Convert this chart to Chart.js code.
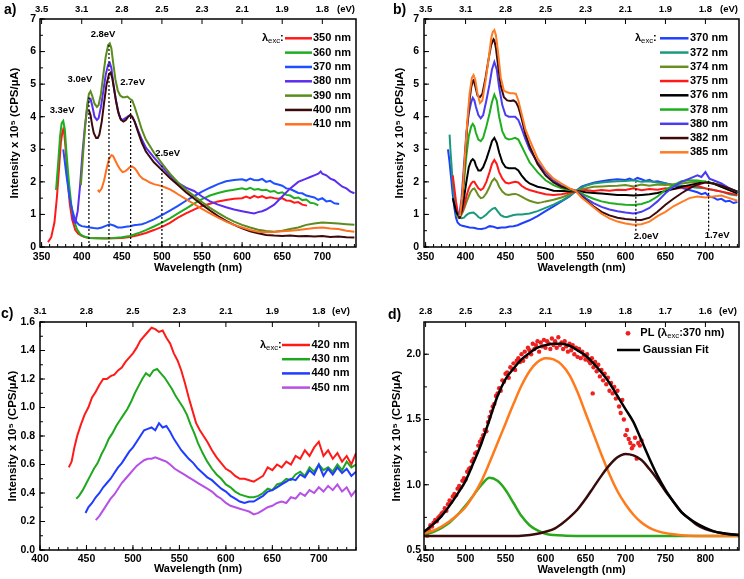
<!DOCTYPE html>
<html><head><meta charset="utf-8">
<script src="https://cdn.jsdelivr.net/npm/chart.js@4.4.1/dist/chart.umd.min.js"></script>
<style>
html,body{margin:0;padding:0;background:#fff}
#wrap{position:relative;width:744px;height:579px;overflow:hidden;background:#fff}
canvas{position:absolute;display:block}
</style></head><body>
<div id="wrap">
<canvas id="ca" width="372" height="290" style="left:0;top:0"></canvas>
<canvas id="cb" width="372" height="290" style="left:372px;top:0"></canvas>
<canvas id="cc" width="372" height="289" style="left:0;top:290px"></canvas>
<canvas id="cd" width="372" height="289" style="left:372px;top:290px"></canvas>
</div>
<script>
const FONT = "'Liberation Sans', Arial, Helvetica, sans-serif";
Chart.defaults.font.family = FONT;
Chart.defaults.color = '#000';

// ---------- tick values / labels ----------
const wlTicksAB = [350,400,450,500,550,600,650,700];
const evTicksAB = ['3.5','3.1','2.8','2.5','2.3','2.1','1.9','1.8'];
const yTicksAB = [0,1,2,3,4,5,6,7];
const wlTicksC = [400,450,500,550,600,650,700];
const evTicksC = ['3.1','2.8','2.5','2.3','2.1','1.9','1.8'];
const yTicksC = [0,0.2,0.4,0.6,0.8,1.0,1.2,1.4,1.6];
const wlTicksD = [450,500,550,600,650,700,750,800];
const evTicksD = ['2.8','2.5','2.3','2.1','1.9','1.8','1.7','1.6'];
const yTicksD = [0.5,1.0,1.5,2.0];

// ---------- panel a : excitation 350-410 nm ----------
const excA = [350,360,370,380,390,400,410];
const a350 = [[358,.15],[362,.3],[366,.75],[369,1.5],[372,2.5],[374,3.2],[376,3.55],[377,3.62],[378,3.55],[380,3.0],[382,2.2],[385,1.35],[388,.85],[392,.52],[396,.4],[400,.34],[405,.3],[410,.28],[420,.27],[430,.26],[440,.27],[450,.28],[460,.31],[470,.36],[480,.43],[490,.52],[500,.62],[510,.74],[520,.9],[530,1.03],[540,1.15],[550,1.26],[560,1.33],[570,1.4],[580,1.44],[590,1.48],[600,1.5],[605,1.55],[610,1.5],[615,1.57],[620,1.52],[625,1.56],[630,1.5],[635,1.53],[640,1.5],[645,1.48],[650,1.5],[655,1.43],[660,1.42],[665,1.36],[670,1.38],[675,1.3],[681,1.27]];
const a360 = [[368,1.75],[371,2.7],[373,3.4],[375,3.8],[377,3.87],[379,3.6],[381,2.9],[384,2.0],[387,1.3],[390,.85],[394,.55],[398,.4],[402,.33],[406,.3],[410,.28],[420,.27],[430,.27],[440,.28],[450,.3],[460,.34],[470,.42],[480,.52],[490,.63],[500,.75],[510,.88],[520,1.03],[530,1.18],[540,1.33],[550,1.47],[560,1.58],[570,1.66],[580,1.72],[590,1.76],[600,1.8],[605,1.77],[610,1.82],[615,1.76],[620,1.78],[625,1.74],[630,1.76],[635,1.7],[640,1.72],[645,1.65],[650,1.68],[655,1.6],[660,1.58],[665,1.5],[670,1.52],[675,1.44],[680,1.46],[685,1.36],[690,1.34],[695,1.28]];
const a370 = [[377,3.0],[379,2.6],[381,2.2],[383,1.85],[385,1.5],[388,1.15],[391,.9],[394,.75],[397,.68],[400,.64],[405,.62],[410,.6],[415,.58],[420,.57],[425,.6],[430,.65],[435,.7],[440,.66],[445,.6],[450,.6],[455,.62],[460,.64],[465,.67],[470,.68],[475,.7],[480,.74],[490,.85],[500,.98],[510,1.12],[520,1.26],[530,1.42],[540,1.56],[550,1.7],[560,1.82],[570,1.93],[580,2.02],[590,2.06],[600,2.08],[605,2.04],[610,2.1],[615,2.06],[620,2.05],[625,2.09],[630,2.0],[635,2.03],[640,1.95],[645,1.92],[650,1.88],[655,1.8],[660,1.78],[665,1.72],[670,1.66],[675,1.65],[680,1.58],[685,1.55],[690,1.52],[695,1.45],[700,1.5],[705,1.4],[710,1.42],[715,1.34],[721,1.32]];
const a380 = [[388,1.0],[390,.8],[392,.75],[395,1.1],[398,1.9],[401,2.9],[404,3.7],[407,4.3],[409,4.55],[411,4.55],[413,4.35],[416,4.0],[419,3.9],[421,3.95],[424,4.3],[427,4.8],[430,5.3],[433,5.6],[435,5.65],[437,5.5],[439,5.1],[442,4.6],[445,4.2],[448,3.95],[451,3.9],[454,3.95],[457,4.0],[460,4.05],[463,4.0],[466,3.85],[470,3.6],[475,3.3],[480,3.05],[490,2.75],[500,2.47],[510,2.2],[520,1.97],[530,1.82],[540,1.72],[550,1.55],[560,1.4],[570,1.3],[580,1.22],[590,1.15],[600,1.1],[610,1.05],[615,1.03],[620,1.07],[625,1.1],[630,1.15],[640,1.3],[650,1.55],[660,1.8],[670,2.0],[680,2.1],[685,2.15],[690,2.2],[695,2.25],[698,2.32],[700,2.25],[705,2.2],[710,2.1],[715,2.05],[720,1.95],[725,1.85],[730,1.8],[735,1.7],[740,1.65]];
const a390 = [[399,1.9],[401,2.6],[403,3.3],[405,3.9],[407,4.4],[409,4.7],[411,4.78],[413,4.65],[416,4.4],[419,4.3],[421,4.35],[424,4.7],[427,5.3],[430,5.85],[433,6.2],[435,6.25],[437,6.1],[439,5.7],[442,5.15],[445,4.8],[448,4.65],[451,4.6],[454,4.6],[457,4.62],[460,4.55],[463,4.5],[466,4.3],[470,4.0],[475,3.6],[480,3.3],[490,2.9],[500,2.57],[510,2.25],[520,1.98],[530,1.76],[540,1.57],[550,1.38],[560,1.2],[570,1.05],[580,.9],[590,.78],[600,.68],[610,.6],[620,.53],[630,.49],[640,.47],[650,.5],[660,.55],[670,.6],[680,.68],[690,.72],[700,.75],[710,.74],[720,.72],[730,.7],[740,.68]];
const a400 = [[409,4.2],[411,4.05],[413,3.75],[415,3.5],[418,3.35],[420,3.35],[422,3.45],[425,3.85],[428,4.45],[431,5.0],[434,5.3],[436,5.35],[438,5.2],[440,4.9],[443,4.45],[446,4.1],[449,3.9],[452,3.85],[455,3.9],[458,4.0],[461,4.05],[463,4.0],[466,3.85],[470,3.55],[475,3.2],[480,2.93],[490,2.6],[500,2.36],[510,2.12],[520,1.9],[530,1.68],[540,1.49],[550,1.3],[560,1.12],[570,.95],[580,.8],[590,.68],[600,.57],[610,.48],[620,.42],[630,.37],[640,.35],[650,.34],[660,.35],[670,.33],[680,.34],[690,.32],[700,.34],[710,.31],[720,.32],[730,.3],[740,.29]];
const a410 = [[420,1.75],[422,1.7],[425,1.8],[428,2.05],[431,2.4],[434,2.7],[437,2.82],[439,2.8],[442,2.65],[445,2.5],[448,2.38],[451,2.3],[454,2.32],[457,2.38],[460,2.45],[463,2.47],[466,2.42],[469,2.32],[472,2.2],[476,2.1],[480,2.05],[485,1.98],[490,1.93],[495,1.9],[500,1.87],[505,1.82],[510,1.77],[515,1.7],[520,1.62],[530,1.47],[540,1.32],[550,1.17],[560,1.03],[570,.9],[580,.78],[590,.68],[600,.6],[610,.52],[620,.47],[630,.45],[640,.46],[650,.48],[660,.5],[670,.52],[680,.55],[690,.58],[700,.6],[710,.57],[720,.55],[730,.5],[740,.47]];
const peakLinesA = [[[409,0],[409,4.6]],[[434,0],[434,6.2]],[[461,0],[461,4.5]],[[500,0],[500,2.5]]];

// ---------- panel b : excitation 370-385 nm ----------
const excB = [370,372,374,375,376,378,380,382,385];
const b370 = [[378,3.0],[380,2.6],[382,2.1],[384,1.6],[386,1.2],[388,.9],[390,.75],[393,.68],[396,.65],[400,.63],[405,.6],[410,.59],[415,.56],[420,.55],[425,.58],[430,.64],[435,.62],[440,.58],[445,.6],[450,.6],[455,.63],[460,.64],[465,.67],[470,.72],[480,.82],[490,.95],[500,1.1],[510,1.25],[520,1.4],[530,1.55],[538,1.72],[545,1.85],[550,1.9],[560,1.97],[570,2.02],[580,2.06],[590,2.08],[600,2.06],[605,2.1],[610,2.05],[615,2.12],[620,2.08],[625,2.03],[630,2.06],[635,2.0],[640,2.02],[650,1.96],[660,1.9],[670,1.82],[680,1.75],[690,1.68],[695,1.62],[700,1.66],[705,1.55],[710,1.52],[715,1.45],[720,1.48],[725,1.4],[730,1.42],[735,1.35],[740,1.38]];
const b372 = [[380,3.45],[381,3.0],[383,2.3],[385,1.7],[387,1.25],[389,1.0],[392,.9],[395,.88],[398,.9],[401,.98],[404,1.03],[407,1.05],[410,1.06],[413,1.0],[416,.92],[419,.88],[422,.92],[426,1.0],[430,1.1],[434,1.18],[437,1.2],[440,1.1],[444,.98],[448,.93],[452,.92],[456,.95],[460,.98],[465,1.0],[470,1.0],[480,1.03],[490,1.1],[500,1.2],[510,1.3],[520,1.42],[530,1.57],[538,1.72],[545,1.82],[550,1.88],[560,1.95],[570,1.98],[580,2.0],[590,2.02],[600,2.03],[610,2.05],[620,2.0],[630,2.02],[640,1.98],[650,1.95],[660,1.9],[670,1.88],[680,1.85],[690,1.82],[700,1.8],[710,1.75],[720,1.7],[730,1.62],[740,1.58]];
const b374 = [[388,1.0],[391,.9],[394,.95],[397,1.1],[400,1.3],[403,1.5],[406,1.68],[409,1.78],[411,1.8],[413,1.72],[416,1.58],[419,1.5],[422,1.52],[426,1.65],[430,1.85],[433,2.02],[436,2.1],[439,2.02],[442,1.85],[446,1.7],[450,1.62],[454,1.6],[458,1.62],[462,1.63],[466,1.6],[470,1.55],[475,1.48],[480,1.42],[485,1.38],[490,1.35],[495,1.37],[500,1.4],[510,1.45],[520,1.52],[530,1.62],[538,1.72],[545,1.78],[550,1.8],[560,1.85],[570,1.86],[580,1.87],[590,1.88],[600,1.9],[610,1.86],[620,1.92],[630,1.88],[640,1.92],[650,1.9],[660,1.93],[670,1.95],[680,1.98],[690,2.0],[700,2.0],[710,1.95],[720,1.85],[730,1.75],[740,1.65]];
const b375 = [[384,2.2],[386,1.8],[388,1.4],[390,1.1],[392,1.0],[395,1.05],[398,1.25],[401,1.55],[404,1.8],[407,1.95],[409,2.0],[411,2.0],[413,1.92],[416,1.8],[419,1.75],[422,1.8],[426,2.0],[430,2.3],[433,2.55],[436,2.67],[439,2.55],[442,2.3],[446,2.1],[450,1.98],[454,1.95],[458,1.98],[462,2.0],[466,1.98],[470,1.88],[475,1.8],[480,1.75],[490,1.68],[500,1.62],[510,1.6],[520,1.62],[530,1.67],[538,1.72],[545,1.73],[550,1.75],[560,1.72],[570,1.75],[580,1.73],[590,1.76],[600,1.75],[610,1.8],[620,1.74],[630,1.78],[640,1.76],[650,1.8],[660,1.78],[670,1.82],[680,1.85],[690,1.88],[700,1.8],[710,1.75],[720,1.7],[730,1.65],[740,1.6]];
const b376 = [[384,1.5],[386,1.3],[388,1.1],[390,1.0],[392,.95],[395,1.1],[398,1.5],[401,2.0],[404,2.45],[407,2.65],[409,2.7],[411,2.65],[413,2.5],[416,2.35],[419,2.35],[422,2.45],[426,2.7],[430,3.0],[433,3.25],[436,3.35],[439,3.2],[442,2.9],[446,2.6],[450,2.45],[454,2.42],[458,2.42],[462,2.42],[466,2.35],[470,2.2],[475,2.05],[480,1.95],[490,1.85],[500,1.8],[510,1.73],[520,1.72],[530,1.71],[538,1.72],[545,1.7],[550,1.68],[560,1.66],[570,1.64],[580,1.62],[590,1.6],[600,1.6],[610,1.58],[620,1.6],[630,1.62],[640,1.66],[650,1.72],[660,1.78],[670,1.85],[680,1.9],[690,1.95],[700,2.0],[710,1.95],[720,1.85],[730,1.75],[740,1.65]];
const b378 = [[392,.95],[395,1.3],[398,2.0],[401,2.8],[404,3.4],[407,3.7],[409,3.78],[411,3.7],[413,3.5],[416,3.3],[419,3.25],[422,3.35],[426,3.7],[430,4.1],[433,4.45],[436,4.68],[439,4.5],[442,4.0],[446,3.55],[450,3.35],[454,3.3],[458,3.32],[462,3.35],[466,3.3],[470,3.1],[475,2.85],[480,2.6],[490,2.3],[500,2.05],[510,1.9],[520,1.8],[530,1.75],[538,1.72],[545,1.65],[550,1.58],[560,1.48],[570,1.4],[580,1.35],[590,1.32],[600,1.3],[610,1.29],[620,1.32],[630,1.4],[640,1.55],[650,1.75],[660,1.9],[670,2.02],[680,2.05],[690,2.04],[700,2.0],[710,1.95],[720,1.9],[730,1.8],[740,1.7]];
const b380 = [[392,.95],[395,1.5],[398,2.5],[401,3.5],[404,4.1],[407,4.45],[409,4.58],[411,4.5],[413,4.3],[416,4.05],[419,3.95],[422,4.05],[426,4.5],[430,5.0],[433,5.45],[436,5.68],[439,5.45],[442,4.9],[446,4.35],[450,4.05],[454,4.0],[458,4.0],[462,4.0],[466,3.9],[470,3.65],[475,3.3],[480,3.0],[490,2.6],[500,2.3],[510,2.05],[520,1.88],[530,1.78],[538,1.72],[545,1.6],[550,1.5],[560,1.35],[570,1.23],[580,1.15],[590,1.1],[600,1.06],[610,1.03],[615,1.05],[620,1.08],[630,1.2],[640,1.4],[650,1.65],[660,1.85],[670,2.0],[680,2.1],[690,2.2],[695,2.15],[700,2.3],[705,2.1],[710,2.05],[720,1.95],[730,1.8],[740,1.7]];
const b382 = [[391,.88],[393,.9],[396,1.5],[399,2.6],[402,3.7],[405,4.5],[407,4.9],[409,5.1],[410,5.12],[412,4.95],[415,4.65],[418,4.6],[421,4.7],[425,5.2],[429,5.8],[432,6.2],[435,6.38],[436,6.35],[438,6.1],[441,5.5],[444,4.95],[448,4.6],[452,4.5],[456,4.48],[460,4.5],[463,4.45],[466,4.3],[470,3.95],[475,3.45],[480,3.1],[490,2.55],[500,2.2],[510,1.98],[520,1.85],[530,1.78],[538,1.72],[545,1.55],[550,1.45],[560,1.25],[570,1.08],[580,.97],[590,.9],[600,.86],[610,.84],[620,.83],[630,.9],[640,1.08],[650,1.3],[660,1.48],[670,1.65],[680,1.8],[690,1.92],[700,1.98],[710,1.95],[720,1.88],[730,1.8],[740,1.7]];
const b385 = [[393,.95],[396,1.6],[399,2.7],[402,3.8],[405,4.7],[408,5.2],[410,5.28],[412,5.15],[415,4.7],[418,4.42],[421,4.5],[425,5.1],[429,5.8],[432,6.4],[434,6.6],[436,6.66],[438,6.5],[441,5.9],[444,5.2],[448,4.8],[452,4.75],[456,4.72],[460,4.72],[463,4.7],[466,4.5],[470,4.1],[475,3.6],[480,3.3],[490,2.72],[500,2.35],[510,2.1],[520,1.95],[530,1.8],[538,1.72],[545,1.52],[550,1.42],[560,1.22],[570,1.02],[580,.88],[590,.78],[600,.72],[610,.68],[620,.7],[630,.78],[640,.95],[650,1.08],[660,1.25],[670,1.38],[680,1.5],[690,1.55],[700,1.52],[710,1.55],[720,1.58],[730,1.5],[740,1.42]];
const peakLinesB = [[[613,0.5],[613,2.0]],[[704,0.5],[704,2.05]]];

// ---------- panel c : excitation 420-450 nm ----------
const excC = [420,430,440,450];
const c420 = [[431,.58],[434,.62],[437,.72],[440,.8],[444,.88],[448,.95],[452,1.0],[456,1.07],[460,1.11],[464,1.16],[468,1.2],[472,1.2],[476,1.22],[480,1.23],[484,1.26],[488,1.28],[492,1.32],[496,1.35],[500,1.38],[504,1.42],[508,1.47],[512,1.5],[516,1.53],[520,1.56],[524,1.55],[528,1.53],[532,1.54],[536,1.49],[540,1.45],[544,1.38],[548,1.33],[552,1.26],[556,1.17],[560,1.07],[564,.98],[568,.89],[572,.84],[576,.8],[580,.76],[585,.7],[590,.65],[595,.61],[600,.57],[605,.55],[610,.52],[615,.5],[620,.5],[625,.49],[630,.48],[635,.5],[640,.52],[645,.58],[650,.56],[655,.6],[660,.58],[665,.62],[670,.6],[675,.66],[680,.64],[685,.7],[690,.66],[695,.72],[700,.76],[705,.66],[710,.7],[715,.64],[720,.68],[725,.62],[730,.66],[735,.6],[740,.68]];
const c430 = [[439,.36],[442,.38],[446,.42],[450,.47],[454,.52],[458,.57],[462,.61],[466,.67],[470,.72],[474,.78],[478,.82],[482,.87],[486,.91],[490,.95],[494,.99],[498,1.04],[502,1.1],[506,1.15],[510,1.2],[514,1.24],[518,1.22],[522,1.26],[526,1.27],[530,1.24],[534,1.21],[538,1.17],[542,1.13],[546,1.08],[550,1.04],[554,1.0],[558,.95],[562,.88],[566,.82],[570,.75],[575,.68],[580,.62],[585,.57],[590,.53],[595,.5],[600,.46],[605,.44],[610,.41],[615,.39],[620,.38],[625,.37],[630,.37],[635,.38],[640,.4],[645,.43],[650,.42],[655,.46],[660,.47],[665,.5],[670,.49],[675,.53],[680,.55],[685,.52],[690,.58],[695,.55],[700,.6],[705,.56],[710,.58],[715,.55],[720,.6],[725,.56],[730,.62],[735,.58],[740,.6]];
const c440 = [[449,.26],[452,.3],[456,.33],[460,.37],[464,.4],[468,.44],[472,.47],[476,.5],[480,.54],[484,.58],[488,.61],[492,.65],[496,.69],[500,.72],[504,.76],[508,.8],[512,.84],[516,.85],[520,.86],[524,.84],[528,.89],[532,.86],[536,.87],[540,.83],[544,.78],[548,.74],[552,.7],[556,.67],[560,.64],[565,.61],[570,.57],[575,.54],[580,.51],[585,.49],[590,.46],[595,.43],[600,.41],[605,.38],[610,.36],[615,.34],[620,.33],[625,.34],[630,.34],[635,.36],[640,.38],[645,.41],[650,.42],[655,.44],[660,.46],[665,.48],[670,.5],[675,.49],[680,.53],[685,.51],[690,.56],[695,.53],[700,.6],[705,.52],[710,.57],[715,.53],[720,.58],[725,.54],[730,.57],[735,.52],[740,.55]];
const c450 = [[460,.21],[464,.24],[468,.28],[472,.32],[476,.36],[480,.39],[484,.43],[488,.47],[492,.5],[496,.53],[500,.56],[504,.59],[508,.61],[512,.63],[516,.64],[520,.64],[524,.65],[528,.64],[532,.63],[536,.62],[540,.6],[545,.57],[550,.55],[555,.53],[560,.51],[565,.49],[570,.47],[575,.45],[580,.43],[585,.41],[590,.38],[595,.36],[600,.33],[605,.31],[610,.3],[615,.29],[620,.28],[625,.27],[630,.25],[635,.26],[640,.28],[645,.3],[650,.31],[655,.33],[660,.34],[665,.33],[670,.37],[675,.36],[680,.4],[685,.38],[690,.42],[695,.4],[700,.44],[705,.41],[710,.45],[715,.42],[720,.46],[725,.41],[730,.44],[735,.38],[740,.42]];

// ---------- panel d : PL (370 nm) with Gaussian fit ----------
const plData = [[452,.61],[454,.66],[456,.69],[458,.68],[460,.71],[462,.73],[464,.72],[466,.75],[468,.76],[470,.78],[472,.79],[474,.82],[476,.8],[478,.85],[480,.88],[482,.87],[484,.91],[486,.93],[488,.92],[490,.97],[492,.99],[494,.98],[496,1.03],[498,1.05],[500,1.04],[502,1.1],[504,1.12],[506,1.13],[508,1.18],[510,1.2],[512,1.24],[514,1.25],[516,1.3],[518,1.33],[520,1.35],[522,1.38],[524,1.42],[526,1.41],[528,1.48],[530,1.52],[532,1.56],[534,1.6],[536,1.62],[538,1.68],[540,1.7],[542,1.74],[544,1.72],[546,1.8],[548,1.79],[550,1.85],[552,1.86],[554,1.82],[556,1.9],[558,1.89],[560,1.93],[562,1.88],[564,1.95],[566,1.97],[568,1.94],[570,2.0],[572,1.95],[574,2.02],[576,1.98],[578,2.05],[580,2.03],[582,2.0],[584,2.08],[586,2.04],[588,2.07],[590,2.1],[592,2.02],[594,2.09],[596,2.06],[598,2.11],[600,2.05],[602,2.1],[604,2.08],[606,2.04],[608,2.12],[610,2.07],[612,2.1],[614,2.05],[616,2.13],[618,2.07],[620,2.09],[622,2.04],[624,2.1],[626,2.06],[628,2.02],[630,2.08],[632,2.03],[634,2.07],[636,2.0],[638,2.05],[640,1.98],[642,2.04],[644,1.97],[646,2.02],[648,1.99],[650,1.96],[652,2.0],[654,1.95],[656,1.93],[658,1.97],[659,1.7],[660,1.9],[662,1.94],[664,1.87],[666,1.92],[668,1.83],[670,1.88],[672,1.8],[674,1.85],[676,1.77],[678,1.82],[680,1.72],[682,1.78],[684,1.7],[686,1.75],[688,1.66],[690,1.72],[692,1.6],[694,1.55],[696,1.65],[698,1.5],[700,1.38],[702,1.42],[704,1.35],[706,1.32],[708,1.28],[710,1.3],[712,1.36],[714,1.2],[716,1.32],[718,1.3],[720,1.34]];
const fitSum = [[448,.64],[460,.7],[470,.76],[480,.84],[490,.93],[500,1.03],[510,1.17],[520,1.32],[530,1.5],[540,1.68],[550,1.81],[560,1.89],[570,1.96],[580,2.01],[590,2.05],[600,2.07],[610,2.08],[620,2.08],[630,2.065],[640,2.03],[650,1.99],[660,1.93],[670,1.86],[680,1.78],[690,1.68],[700,1.58],[710,1.48],[720,1.34],[730,1.2],[740,1.07],[750,.96],[760,.87],[770,.79],[780,.74],[790,.7],[800,.67],[810,.645],[820,.63],[830,.62],[842,.615]];
const fitG1 = [[448,.62],[460,.64],[470,.67],[480,.71],[490,.77],[500,.84],[510,.92],[520,1.0],[530,1.054],[540,1.03],[550,.96],[560,.86],[570,.76],[580,.69],[590,.65],[600,.625],[610,.615],[625,.61],[650,.607],[700,.607],[842,.607]];
const fitG2 = [[448,.63],[460,.65],[470,.68],[480,.72],[490,.77],[500,.83],[510,.92],[520,1.03],[530,1.17],[540,1.32],[550,1.47],[560,1.62],[570,1.76],[580,1.87],[590,1.94],[600,1.97],[610,1.96],[620,1.92],[630,1.84],[640,1.71],[650,1.55],[660,1.39],[670,1.23],[680,1.08],[690,.95],[700,.85],[710,.77],[720,.71],[730,.67],[740,.645],[760,.62],[780,.61],[842,.607]];
const fitG3 = [[448,.607],[550,.607],[570,.61],[590,.625],[600,.64],[610,.66],[620,.7],[630,.75],[640,.81],[650,.89],[660,.98],[670,1.07],[680,1.15],[690,1.21],[700,1.236],[710,1.225],[720,1.19],[730,1.12],[740,1.04],[750,.95],[760,.87],[770,.79],[780,.74],[790,.69],[800,.66],[820,.63],[842,.615]];

// ---------- helpers ----------
const pts = arr => arr.map(p => ({x: p[0], y: p[1]}));

function drawRich(ctx, x, y, segs, size) {
  segs.forEach(([t, sub]) => {
    ctx.font = sub ? (size * 0.7).toFixed(1) + 'px ' + FONT : 'bold ' + size + 'px ' + FONT;
    ctx.fillText(t, x, sub ? y + 3 : y);
    x += ctx.measureText(t).width;
  });
}

function deco(o) {
  return {
    id: 'deco',
    afterDraw(chart) {
      const ctx = chart.ctx, ca = chart.chartArea, xs = chart.scales.x, ys = chart.scales.y;
      ctx.save();
      ctx.strokeStyle = '#000';
      ctx.lineWidth = 1;
      ctx.beginPath();
      const x0 = Math.ceil(xs.min / o.minorX - 1e-9) * o.minorX;
      for (let k = 0; ; k++) {
        const v = x0 + k * o.minorX; if (v > xs.max + 1e-9) break;
        const p = xs.getPixelForValue(v); ctx.moveTo(p, ca.bottom); ctx.lineTo(p, ca.bottom - 3);
      }
      xs.ticks.forEach(t => {
        const p = xs.getPixelForValue(t.value);
        ctx.moveTo(p, ca.bottom); ctx.lineTo(p, ca.bottom - 5);
        ctx.moveTo(p, ca.top); ctx.lineTo(p, ca.top + 5);
      });
      const y0 = Math.ceil(ys.min / o.minorY - 1e-9) * o.minorY;
      for (let k = 0; ; k++) {
        const v = y0 + k * o.minorY; if (v > ys.max + 1e-9) break;
        const p = ys.getPixelForValue(v); ctx.moveTo(ca.left, p); ctx.lineTo(ca.left + 3, p);
      }
      ys.ticks.forEach(t => {
        const p = ys.getPixelForValue(t.value); ctx.moveTo(ca.left, p); ctx.lineTo(ca.left + 5, p);
      });
      ctx.stroke();
      ctx.lineWidth = 1.5;
      ctx.strokeRect(ca.left, ca.top, ca.right - ca.left, ca.bottom - ca.top);

      ctx.fillStyle = '#000';
      ctx.textBaseline = 'middle';
      ctx.textAlign = 'left';
      ctx.font = 'bold 14px ' + FONT;
      ctx.fillText(o.letter.t, o.letter.x, o.letter.y);
      ctx.font = 'bold 9.5px ' + FONT;
      ctx.fillText('(eV)', o.ev.x, o.ev.y);

      ctx.textAlign = 'center';
      ctx.font = 'bold 9.5px ' + FONT;
      (o.notes || []).forEach(n => ctx.fillText(n.t, xs.getPixelForValue(n.x), ys.getPixelForValue(n.y)));

      const L = o.legend;
      ctx.textAlign = 'left';
      if (L.head) drawRich(ctx, L.head.x, L.head.y, [['λ', 0], ['exc', 1], [':', 0]], 11);
      L.items.forEach((it, i) => {
        const y = L.y0 + i * L.dy;
        if (it.dot) {
          ctx.fillStyle = it.color; ctx.beginPath(); ctx.arc(it.cx, y, 2.4, 0, Math.PI * 2); ctx.fill();
        } else {
          ctx.strokeStyle = it.color; ctx.lineWidth = 2.5; ctx.beginPath();
          ctx.moveTo(it.x0 ?? L.x0, y); ctx.lineTo(it.x1 ?? L.x1, y); ctx.stroke();
        }
        ctx.fillStyle = '#000';
        drawRich(ctx, it.tx ?? L.tx, y, it.segs || [[it.label, 0]], 11);
      });
      ctx.restore();
    }
  };
}

function makePanel(id, o) {
  const datasets = o.series.map((s, i) => ({
    data: pts(s.data),
    borderColor: s.color, backgroundColor: s.color,
    borderWidth: s.w || 2,
    pointRadius: s.dot ? 2.2 : 0, pointBorderWidth: 0, pointBackgroundColor: s.color,
    showLine: !s.dot,
    borderDash: s.dash || [],
    cubicInterpolationMode: s.smooth ? 'monotone' : 'default',
    tension: 0,
    order: s.order !== undefined ? s.order : 100 - i
  }));
  const tickFont = {size: 10.5, weight: 'bold', family: FONT};
  const titleFont = {size: 11.5, weight: 'bold', family: FONT};
  return new Chart(document.getElementById(id), {
    type: 'line',
    data: {datasets},
    options: {
      responsive: false, animation: false, events: [],
      layout: {padding: {left: 0, right: o.padR, top: 0, bottom: 0}, autoPadding: false},
      plugins: {legend: {display: false}, tooltip: {enabled: false}},
      scales: {
        x: {
          type: 'linear', position: 'bottom', min: o.xmin, max: o.xmax,
          afterBuildTicks: s => { s.ticks = o.xTicks.map(v => ({value: v})); },
          ticks: {font: tickFont, color: '#000', padding: o.xLabPad, maxRotation: 0, autoSkip: false, callback: v => String(v)},
          grid: {display: false, drawTicks: false}, border: {display: false},
          title: {display: true, text: 'Wavelength (nm)', font: {size: 11, weight: 'bold', family: FONT}, color: '#000', padding: {top: 0, bottom: o.xTitlePad}},
          afterFit: s => { s.height = o.bottomH; }
        },
        x2: {
          type: 'linear', position: 'top', display: true, min: o.xmin, max: o.xmax,
          afterBuildTicks: s => { s.ticks = o.xTicks.map(v => ({value: v})); },
          ticks: {font: {size: 9.5, weight: 'bold', family: FONT}, color: '#000', padding: o.topLabPad, maxRotation: 0, autoSkip: false, callback: (v, i) => o.evLabels[i]},
          grid: {display: false, drawTicks: false}, border: {display: false},
          afterFit: s => { s.height = o.topH; }
        },
        y: {
          type: 'linear', position: 'left', min: o.ymin, max: o.ymax,
          afterBuildTicks: s => { s.ticks = o.yTicks.map(v => ({value: v})); },
          ticks: {font: tickFont, color: '#000', padding: o.yLabPad, autoSkip: false, callback: v => o.yDec ? Number(v).toFixed(1) : String(v)},
          grid: {display: false, drawTicks: false}, border: {display: false},
          title: {display: true, text: 'Intensity x 10\u2075 (CPS/\u00B5A)', font: titleFont, color: '#000', padding: {top: o.yTitlePad, bottom: 0}},
          afterFit: s => { s.width = o.yW; }
        }
      }
    },
    plugins: [deco(o)]
  });
}

const colA = ['#ff1a1a', '#1fae1f', '#1f4fff', '#5a2df0', '#5b8c1e', '#3c0a0a', '#ff7020'];
const colB = ['#1f3fff', '#1a9a7a', '#6b8e23', '#ff1a1a', '#000000', '#1fae1f', '#4a3cf0', '#3d0a0a', '#ff7b24'];
const colC = ['#ff1a1a', '#1fa81f', '#1f3cff', '#b650e6'];
const dashStyle = {color: '#000', w: 1.2, dash: [2, 2], order: 0};

// panel a
makePanel('ca', {
  series: [a350, a360, a370, a380, a390, a400, a410].map((d, i) => ({data: d, color: colA[i]}))
    .concat(peakLinesA.map(d => Object.assign({data: d}, dashStyle))),
  xmin: 348, xmax: 742, xTicks: wlTicksAB, evLabels: evTicksAB,
  ymin: 0, ymax: 7, yTicks: yTicksAB, yDec: false,
  padR: 16, yW: 40, topH: 19, bottomH: 43,
  xLabPad: 4, topLabPad: 4, yLabPad: 4, yTitlePad: 8, xTitlePad: 15.5,
  minorX: 10, minorY: 0.5,
  letter: {t: 'a)', x: 4, y: 10}, ev: {x: 337, y: 9},
  notes: [{x: 375.5, y: 4.18, t: '3.3eV'}, {x: 397.9, y: 5.15, t: '3.0eV'}, {x: 426.6, y: 6.53, t: '2.8eV'}, {x: 463.4, y: 5.06, t: '2.7eV'}, {x: 507.1, y: 2.88, t: '2.5eV'}],
  legend: {head: {x: 262, y: 38.3}, x0: 285, x1: 312, tx: 313, y0: 38.3, dy: 14.33,
    items: excA.map((v, i) => ({label: v + ' nm', color: colA[i]}))}
});

// panel b
makePanel('cb', {
  series: [b370, b372, b374, b375, b376, b378, b380, b382, b385].map((d, i) => ({data: d, color: colB[i]}))
    .concat(peakLinesB.map(d => Object.assign({data: d}, dashStyle))),
  xmin: 348, xmax: 742, xTicks: wlTicksAB, evLabels: evTicksAB,
  ymin: 0, ymax: 7, yTicks: yTicksAB, yDec: false,
  padR: 5, yW: 52, topH: 19, bottomH: 43,
  xLabPad: 4, topLabPad: 4, yLabPad: 5, yTitlePad: 21, xTitlePad: 15.5,
  minorX: 10, minorY: 0.5,
  letter: {t: 'b)', x: 21, y: 10}, ev: {x: 348, y: 9},
  notes: [{x: 625.9, y: 0.32, t: '2.0eV'}, {x: 714.6, y: 0.37, t: '1.7eV'}],
  legend: {head: {x: 263, y: 38.3}, x0: 288, x1: 316.5, tx: 318, y0: 38.3, dy: 14.25,
    items: excB.map((v, i) => ({label: v + ' nm', color: colB[i]}))}
});

// panel c
makePanel('cc', {
  series: [c420, c430, c440, c450].map((d, i) => ({data: d, color: colC[i]})),
  xmin: 400, xmax: 740, xTicks: wlTicksC, evLabels: evTicksC,
  ymin: 0, ymax: 1.6, yTicks: yTicksC, yDec: true,
  padR: 16, yW: 40, topH: 32, bottomH: 29,
  xLabPad: 2.5, topLabPad: 4.5, yLabPad: 5, yTitlePad: 5.5, xTitlePad: 3,
  minorX: 10, minorY: 0.1,
  letter: {t: 'c)', x: 1, y: 24}, ev: {x: 332, y: 21.7},
  legend: {head: {x: 260, y: 55}, x0: 282, x1: 310, tx: 311.5, y0: 55, dy: 14.2,
    items: excC.map((v, i) => ({label: v + ' nm', color: colC[i]}))}
});

// panel d
makePanel('cd', {
  series: [
    {data: plData, color: '#ee2020', dot: true, order: 10},
    {data: fitG1, color: '#2aa81d', smooth: true, w: 2.5, order: 5},
    {data: fitG2, color: '#ff7a1a', smooth: true, w: 2.5, order: 4},
    {data: fitG3, color: '#3a0b0b', smooth: true, w: 2.5, order: 3},
    {data: fitSum, color: '#000000', smooth: true, w: 2.5, order: 1}
  ],
  xmin: 448, xmax: 842, xTicks: wlTicksD, evLabels: evTicksD,
  ymin: 0.5, ymax: 2.247, yTicks: yTicksD, yDec: true,
  padR: 5, yW: 52, topH: 32, bottomH: 29,
  xLabPad: 2.5, topLabPad: 4.5, yLabPad: 3, yTitlePad: 18, xTitlePad: 2.5,
  minorX: 10, minorY: 0.25,
  letter: {t: 'd)', x: 16, y: 25}, ev: {x: 347, y: 21.7},
  legend: {y0: 43.3, dy: 16.7, x0: 245, x1: 268, tx: 268.3,
    items: [
      {dot: true, cx: 256, color: '#ee2020', segs: [['PL (', 0], ['λ', 0], ['exc', 1], [':370 nm)', 0]]},
      {color: '#000000', tx: 270.7, segs: [['Gaussian Fit', 0]]}
    ]}
});
</script>
</body></html>
